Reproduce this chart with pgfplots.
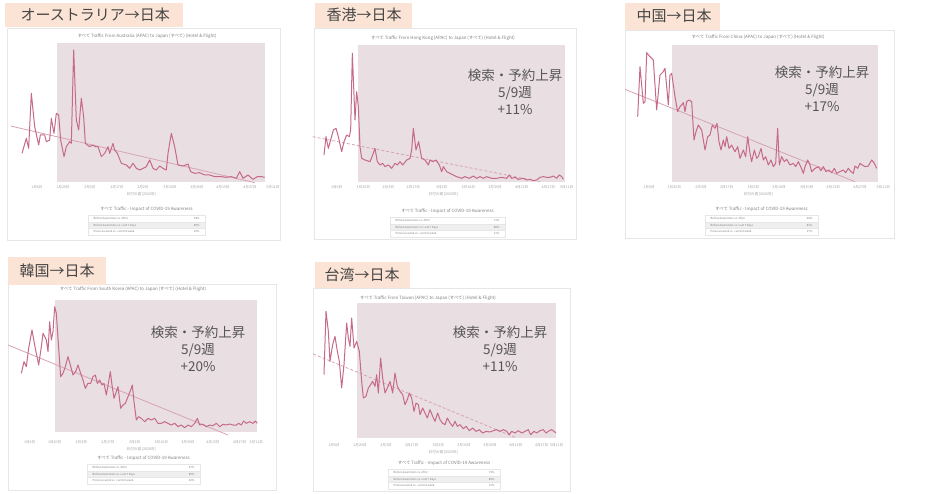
\documentclass[border=0pt]{standalone}
\usepackage{pgfplots}
\pgfplotsset{compat=1.18}
\usepackage{fontspec}
\setmainfont{Noto Sans CJK JP}
\definecolor{linec}{HTML}{C66A8A}
\definecolor{trendc}{HTML}{D8A3B4}
\definecolor{shadec}{HTML}{E9DEE2}
\definecolor{peach}{HTML}{FBE4D5}
\definecolor{cardc}{HTML}{E6E6E6}
\definecolor{tickgray}{HTML}{A0A0A0}
\definecolor{anngray}{HTML}{555555}
\definecolor{labgray}{HTML}{454545}
\definecolor{rowgray}{HTML}{EFEFEF}
\pgfplotsset{
 panel/.style={anchor=north west, scale only axis, width=266.67pt, height=150pt,
   xmin=0, xmax=800, ymin=0, ymax=450, y dir=reverse,
   axis line style={draw=none}, ytick=\empty, major tick length=0pt,
   xticklabel style={font=\fontsize{3.6}{4}\selectfont, text=tickgray, anchor=center, yshift=3pt},
   xticklabels={1月6日,1月20日,2月3日,2月17日,3月2日,3月16日,3月30日,4月13日,4月27日,5月11日},
   xlabel={日付の週 [2020年]},
   xlabel style={font=\fontsize{3.6}{4}\selectfont, text=tickgray, inner sep=0pt, yshift=0pt},
   clip=false},
 dline/.style={no marks, line width=1pt, color=linec, line join=round},
 trend/.style={no marks, line width=0.8pt, color=trendc},
 trendd/.style={no marks, line width=0.8pt, color=trendc, dash pattern=on 3pt off 2pt},
 shade/.style={fill=shadec, draw=none},
}
\newcommand{\tinyf}{\fontsize{4.4}{5}\selectfont}
\newcommand{\tabf}{\fontsize{2.8}{3}\selectfont}
\newcommand{\labf}{\fontsize{15}{17}\selectfont}
\newcommand{\annf}{\fontsize{13.5}{17}\selectfont}
% #1 xl, #2 xr, #3 ytitle, #4 #5 #6 values
\newcommand{\ctable}[6]{%
 \node[font=\tinyf, text=gray] at ({(#1+#2)/2},#3) {すべて Traffic - Impact of COVID-19 Awareness};
 \draw[cardc, line width=0.3pt] (#1,#3+6.5) rectangle (#2,#3+13);
 \fill[rowgray] (#1,#3+13) rectangle (#2,#3+19.5);
 \draw[cardc, line width=0.3pt] (#1,#3+13) rectangle (#2,#3+19.5);
 \draw[cardc, line width=0.3pt] (#1,#3+19.5) rectangle (#2,#3+26);
 \node[font=\tabf, text=gray, anchor=west] at (#1+2,#3+9.75) {Before Awareness vs. After};
 \node[font=\tabf, text=gray, anchor=west] at (#1+2,#3+16.25) {Before Awareness vs. Last 7 Days};
 \node[font=\tabf, text=gray, anchor=west] at (#1+2,#3+22.75) {Previous week vs. current week};
 \node[font=\tabf, text=gray, anchor=east] at (#2-2,#3+9.75) {#4};
 \node[font=\tabf, text=gray, anchor=east] at (#2-2,#3+16.25) {#5};
 \node[font=\tabf, text=gray, anchor=east] at (#2-2,#3+22.75) {#6};
}
\begin{document}
\begin{tikzpicture}[x=1pt,y=-1pt]
\fill[white] (0,0) rectangle (947,494);
% cards
\draw[cardc, line width=0.5pt] (7,28) rectangle (280,240);
\draw[cardc, line width=0.5pt] (314,28) rectangle (576,239);
\draw[cardc, line width=0.5pt] (625,30) rectangle (894,238);
\draw[cardc, line width=0.5pt] (8,284) rectangle (276,490);
\draw[cardc, line width=0.5pt] (313,288) rectangle (570,491);
% label boxes
\fill[peach] (5,3) rectangle (183,27);
\fill[peach] (315,3) rectangle (412,28);
\fill[peach] (625,3) rectangle (720,30);
\fill[peach] (8,257) rectangle (106,285);
\fill[peach] (315,262) rectangle (410,288);
\node[anchor=west, font=\labf, text=labgray] at (17,15) {オーストラリア→日本};
\node[anchor=west, font=\labf, text=labgray] at (323,15) {香港→日本};
\node[anchor=west, font=\labf, text=labgray] at (633,16) {中国→日本};
\node[anchor=west, font=\labf, text=labgray] at (16,271) {韓国→日本};
\node[anchor=west, font=\labf, text=labgray] at (321,275) {台湾→日本};
% chart titles
\node[font=\tinyf, text=gray] at (147,36) {すべて Traffic From Australia (APAC) to Japan (すべて) (Hotel \& Flight)};
\node[font=\tinyf, text=gray] at (443,38) {すべて Traffic From Hong Kong (APAC) to Japan (すべて) (Hotel \& Flight)};
\node[font=\tinyf, text=gray] at (758,37) {すべて Traffic From China (APAC) to Japan (すべて) (Hotel \& Flight)};
\node[font=\tinyf, text=gray] at (133,289) {すべて Traffic From South Korea (APAC) to Japan (すべて) (Hotel \& Flight)};
\node[font=\tinyf, text=gray] at (428,298) {すべて Traffic From Taiwan (APAC) to Japan (すべて) (Hotel \& Flight)};

% ---------- Australia
\begin{axis}[panel, at={(8pt,-40pt)}, xtick={87,165,246,327,405,486,567,645,726,795}]
\addplot[shade] coordinates {(148,10) (770,10) (770,425) (148,425)} -- cycle;
\addplot[trend] coordinates {(8,258) (740,428)};
\addplot[dline] coordinates {
(42,340) (55,295) (62,325) (70,160) (80,260) (92,315) (97,285) (110,285) (115,305) (125,300)
(130,235) (138,280) (145,220) (152,225) (158,300) (168,350) (175,320) (185,305) (190,310) (197,30)
(205,240) (212,270) (220,175) (227,230) (232,310) (245,320) (255,315) (262,320) (270,320) (280,350)
(290,340) (300,320) (305,340) (315,310) (320,330) (328,340) (340,370) (355,375) (365,385) (375,370)
(385,385) (395,390) (405,385) (415,380) (425,360) (435,385) (445,390) (455,378) (465,385) (475,390)
(480,340) (490,280) (500,320) (510,375) (525,378) (540,372) (548,395) (560,400) (575,398) (590,405)
(605,405) (620,410) (640,410) (655,412) (670,410) (685,415) (695,395) (705,415) (720,405) (735,418)
(748,410) (760,410) (770,412)};
\end{axis}

% ---------- Hong Kong
\begin{axis}[panel, at={(310pt,-40pt)}, xtick={80,160,235,310,395,475,555,635,715,770}]
\addplot[shade] coordinates {(145,15) (765,15) (765,425) (145,425)} -- cycle;
\addplot[trendd] coordinates {(8,290) (690,425)};
\addplot[dline] coordinates {
(42,345) (48,290) (55,325) (62,300) (70,270) (78,265) (85,290) (95,335) (102,305) (110,285)
(118,290) (122,270) (127,40) (135,240) (140,155) (145,200) (150,320) (155,355) (165,360) (180,365)
(188,345) (195,325) (202,365) (210,375) (218,370) (225,380) (235,375) (245,385) (255,370) (262,375)
(270,365) (278,375) (290,360) (300,355) (305,330) (310,265) (318,330) (326,305) (335,355) (345,360)
(355,375) (360,360) (368,365) (378,360) (388,375) (395,395) (400,380) (410,395) (420,400) (430,405)
(440,410) (455,415) (465,410) (478,415) (490,408) (500,415) (510,410) (520,415) (530,410) (545,415)
(560,415) (575,412) (590,415) (598,405) (605,415) (615,412) (625,418) (640,415) (650,420) (660,418)
(670,422) (680,420) (690,412) (700,410) (710,412) (720,412) (730,408) (740,415) (748,405) (755,410)
(760,418)};
\end{axis}

% ---------- China
\begin{axis}[panel, at={(625pt,-40pt)}, xtick={72,148,228,305,385,462,545,625,705,775}]
\addplot[shade] coordinates {(140,15) (760,15) (760,425) (140,425)} -- cycle;
\addplot[trend] coordinates {(0,148) (690,425)};
\addplot[dline] coordinates {
(38,230) (45,80) (55,190) (60,185) (65,38) (75,50) (85,60) (95,210) (105,105) (115,95)
(120,85) (130,195) (135,105) (140,100) (150,170) (158,215) (165,200) (170,195) (175,188) (180,215)
(185,185) (192,180) (200,185) (207,300) (213,275) (220,255) (230,270) (240,330) (248,290) (255,285)
(262,255) (270,265) (276,250) (282,305) (288,330) (295,300) (300,320) (305,290) (312,325) (320,315)
(330,335) (338,320) (345,355) (355,330) (362,350) (368,290) (375,340) (380,365) (388,330) (395,355)
(400,350) (408,325) (415,360) (422,350) (430,375) (438,360) (445,380) (452,370) (458,265) (463,375)
(470,350) (478,365) (485,358) (495,375) (505,370) (512,380) (520,365) (528,382) (535,400) (540,380)
(548,360) (555,375) (560,395) (570,385) (580,380) (588,392) (595,380) (603,395) (612,390) (620,398)
(628,385) (635,400) (645,395) (655,390) (662,398) (670,385) (678,395) (685,400) (690,378) (698,385)
(705,370) (712,375) (720,380) (730,378) (740,360) (748,370) (755,385)};
\end{axis}

% ---------- South Korea
\begin{axis}[panel, at={(8pt,-295pt)}, xtick={65,140,220,300,380,460,540,615,695,745}]
\addplot[shade] coordinates {(140,15) (748,15) (748,410) (140,410)} -- cycle;
\addplot[trend] coordinates {(0,150) (660,420)};
\addplot[dline] coordinates {
(40,235) (48,200) (55,215) (62,160) (72,105) (80,150) (92,210) (100,155) (105,115) (115,135)
(120,170) (125,80) (130,135) (135,110) (140,35) (145,55) (150,130) (158,245) (165,235) (172,215)
(180,185) (187,210) (195,240) (203,230) (210,210) (218,235) (225,255) (232,280) (240,265) (248,265)
(255,245) (262,240) (268,265) (275,255) (282,270) (288,265) (295,300) (302,260) (307,230) (312,270)
(318,310) (325,290) (330,275) (338,340) (345,330) (352,325) (360,305) (368,285) (373,270) (378,320)
(385,375) (392,365) (400,370) (410,380) (420,370) (430,375) (440,370) (450,385) (460,385) (470,380)
(480,385) (490,390) (500,385) (510,395) (520,390) (530,398) (540,390) (550,395) (560,385) (568,370)
(575,390) (585,388) (595,395) (605,390) (615,392) (625,385) (635,395) (645,388) (655,390) (665,387)
(675,390) (685,390) (692,385) (700,390) (707,378) (715,385) (725,380) (735,385) (742,378) (748,385)};
\end{axis}

% ---------- Taiwan
\begin{axis}[panel, at={(310pt,-298pt)}, xtick={72,150,228,305,385,462,540,617,695,740}]
\addplot[shade] coordinates {(140,15) (738,15) (738,420) (140,420)} -- cycle;
\addplot[trendd] coordinates {(10,168) (620,420)};
\addplot[dline] coordinates {
(42,230) (48,40) (55,100) (60,190) (68,140) (75,115) (82,160) (88,190) (95,270) (102,200)
(110,75) (115,120) (120,145) (125,60) (132,150) (140,130) (148,160) (155,250) (160,300) (168,295)
(175,270) (182,260) (188,250) (195,265) (200,230) (205,285) (212,180) (218,240) (225,285) (232,270)
(240,250) (248,285) (255,225) (262,265) (270,280) (278,290) (285,320) (292,305) (298,285) (305,300)
(312,340) (318,315) (325,320) (330,350) (338,330) (345,345) (352,360) (360,335) (368,355) (375,370)
(383,345) (390,365) (397,375) (405,380) (412,360) (420,375) (428,385) (435,370) (442,385) (450,380)
(460,392) (468,385) (478,398) (488,390) (498,400) (508,395) (518,405) (528,400) (540,402) (550,398)
(560,395) (570,400) (580,395) (590,400) (598,410) (605,400) (615,405) (625,398) (635,405) (645,400)
(655,395) (662,410) (672,400) (680,405) (690,398) (700,395) (708,405) (718,398) (725,395) (732,400)
(738,405)};
\end{axis}

% annotations
\node[align=center, font=\annf, text=anngray] at (515,92) {検索・予約上昇\\5/9週\\+11\%};
\node[align=center, font=\annf, text=anngray] at (822,89) {検索・予約上昇\\5/9週\\+17\%};
\node[align=center, font=\annf, text=anngray] at (198,349) {検索・予約上昇\\5/9週\\+20\%};
\node[align=center, font=\annf, text=anngray] at (500,349) {検索・予約上昇\\5/9週\\+11\%};

% tables
\ctable{88}{205}{209}{34\%}{49\%}{13\%}
\ctable{390}{505}{211}{71\%}{88\%}{11\%}
\ctable{705}{818}{209}{46\%}{81\%}{17\%}
\ctable{87}{200}{458}{67\%}{89\%}{20\%}
\ctable{388}{500}{463}{73\%}{85\%}{11\%}
\end{tikzpicture}
\end{document}
